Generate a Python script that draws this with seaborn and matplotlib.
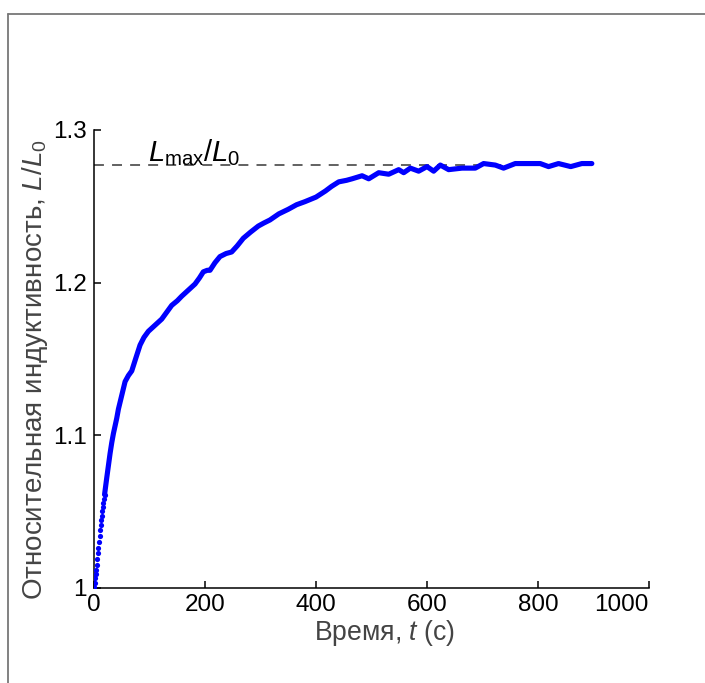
import numpy as np
import pandas as pd
import matplotlib
matplotlib.use("Agg")
import matplotlib.pyplot as plt
from matplotlib.lines import Line2D
import seaborn as sns

# Early samples (1 s apart), still resolved as separate dots
t_early = [0, 1, 2, 3, 4, 5, 6, 7, 8, 9, 10, 11, 12, 13, 14, 15, 16, 17, 18, 19]
L_early = [1.0005, 1.0028, 1.006, 1.0089, 1.0115, 1.0148, 1.0185, 1.0225, 1.0262,
           1.0301, 1.0339, 1.0378, 1.0411, 1.0444, 1.047, 1.0499, 1.0525, 1.0554,
           1.058, 1.0609]

# Remainder of the record, dense enough to read as a continuous trace
t_main = [19, 23, 26, 29, 32, 35, 38, 41, 44, 50, 56, 62, 68, 75, 83, 90, 98, 110,
          122, 130, 140, 150, 158, 170, 182, 190, 197, 204, 209, 218, 227, 238, 248,
          258, 269, 282, 296, 306, 317, 333, 350, 365, 380, 400, 417, 428, 441, 455,
          465, 483, 495, 513, 531, 549, 558, 570, 585, 600, 612, 624, 639, 663, 687,
          702, 723, 738, 759, 783, 804, 819, 837, 859, 879, 897]
L_main = [1.0609, 1.072, 1.080, 1.088, 1.095, 1.101, 1.106, 1.111, 1.117, 1.126,
          1.135, 1.139, 1.142, 1.150, 1.159, 1.164, 1.168, 1.172, 1.176, 1.180,
          1.185, 1.188, 1.191, 1.195, 1.199, 1.203, 1.207, 1.208, 1.208, 1.213,
          1.217, 1.219, 1.220, 1.224, 1.229, 1.233, 1.237, 1.239, 1.241, 1.245,
          1.248, 1.251, 1.253, 1.256, 1.260, 1.263, 1.266, 1.267, 1.268, 1.270,
          1.268, 1.272, 1.271, 1.274, 1.272, 1.275, 1.273, 1.276, 1.273, 1.277,
          1.274, 1.275, 1.275, 1.278, 1.277, 1.275, 1.278, 1.278, 1.278, 1.276,
          1.278, 1.276, 1.278, 1.278]

L_max = 1.277
x_ticks = [0, 200, 400, 600, 800, 1000]
x_ticklabels = ["0", "200", "400", "600", "800", "1000"]
y_ticks = [1.0, 1.1, 1.2, 1.3]
y_ticklabels = ["1", "1.1", "1.2", "1.3"]

sns.set_style("ticks")
plt.rcParams["font.family"] = ["Liberation Sans", "DejaVu Sans"]
plt.rcParams["mathtext.fontset"] = "custom"
plt.rcParams["mathtext.rm"] = "Liberation Sans"
plt.rcParams["mathtext.it"] = "Liberation Sans:italic"
plt.rcParams["mathtext.bf"] = "Liberation Sans:bold"

W, H = 705, 683
fig = plt.figure(figsize=(W / 100, H / 100), dpi=100)
ax = fig.add_axes([94 / W, 1 - 587.5 / H, 555 / W, 457.5 / H])

early = pd.DataFrame({"t": t_early, "L": L_early})
main = pd.DataFrame({"t": t_main, "L": L_main})

# Reference level
ax.plot([0, 900], [L_max, L_max], color="#555555", lw=1.3, ls=(0, (5.5, 4.5)), zorder=1)

sns.lineplot(data=main, x="t", y="L", ax=ax, color="#0000ff", lw=3.7,
             sort=False, estimator=None, solid_capstyle="round",
             solid_joinstyle="round", zorder=3)
sns.scatterplot(data=early, x="t", y="L", ax=ax, color="#0000ff", s=14,
                linewidth=0, zorder=3)

ax.set_xlim(0, 1000)
ax.set_ylim(1.0, 1.3)
ax.set_xticks(x_ticks)
ax.set_xticklabels(x_ticklabels)
ax.set_yticks(y_ticks)
ax.set_yticklabels(y_ticklabels)
ax.get_xticklabels()[-1].set_horizontalalignment("right")

sns.despine(ax=ax)
for side in ("left", "bottom"):
    ax.spines[side].set_linewidth(1.1)
    ax.spines[side].set_color("black")
ax.tick_params(direction="in", length=5, width=1.1, colors="black",
               labelsize=17.5, pad=5)

ax.set_xlabel("Время, $t$ (с)", fontsize=19.2, color="#444444")
ax.set_ylabel("Относительная индуктивность, $L/L_0$", fontsize=20, color="#444444")
ax.xaxis.set_label_coords(291 / 555, -31 / 457.5)
ax.yaxis.set_label_coords(-44 / 555, 0.475)

ax.text(97, 1.2795, r"$L_{\mathrm{max}}/L_0$", fontsize=21, color="black",
        ha="left", va="baseline")

# Frame around the figure (left and top edges)
fx = 8 / W
fy = 1 - 13.5 / H
fig.add_artist(Line2D([fx, fx], [0, fy], transform=fig.transFigure,
                      color="#777777", lw=1.3))
fig.add_artist(Line2D([fx, 1], [fy, fy], transform=fig.transFigure,
                      color="#777777", lw=1.3))

fig.savefig("out.png", dpi=100)
